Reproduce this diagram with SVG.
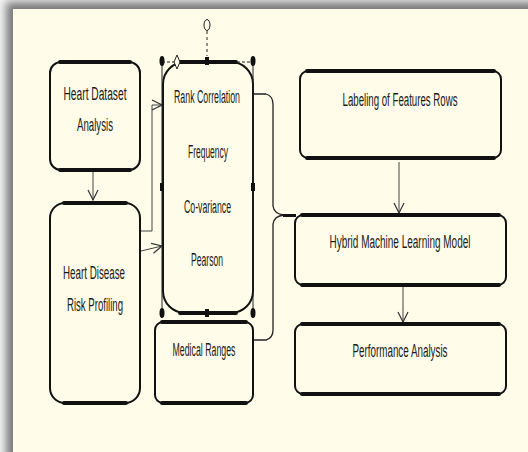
<svg xmlns="http://www.w3.org/2000/svg" width="528" height="452" viewBox="0 0 528 452">
<defs>
<filter id="blur" x="-10%" y="-10%" width="120%" height="120%"><feGaussianBlur stdDeviation="4"/></filter>
<marker id="arr" viewBox="0 0 12 12" refX="11" refY="6" markerWidth="12" markerHeight="12" markerUnits="userSpaceOnUse" orient="auto">
<path d="M1,1 L11,6 L1,11" fill="none" stroke="#333" stroke-width="1.2"/>
</marker>
<style>
.box{fill:none;stroke:#111;stroke-width:2}
.thick{fill:none;stroke:#111;stroke-width:4;stroke-linecap:round}
.t{font-family:"Liberation Sans",Arial,sans-serif;font-size:18px;fill:#1a1a1a;text-anchor:middle}
.con{fill:none;stroke:#222;stroke-width:1.3}
.arrow{fill:none;stroke:#444;stroke-width:1;marker-end:url(#arr)}
</style>
</defs>
<rect x="0" y="0" width="528" height="452" fill="#f4f4f4"/>
<rect x="6" y="2" width="540" height="470" fill="#7a7a7a" filter="url(#blur)"/>
<rect x="13" y="9" width="515" height="443" fill="#fffde9"/>

<g id="connectors">
<path class="arrow" d="M93,172 L93,200"/>
<path class="arrow" d="M140,231 L152,231 L152,105 L162,105"/>
<path class="arrow" d="M141,251 L162,246"/>
<path class="con" d="M253,94 L266,94 Q273,96 273,104 L273,206 Q274,214 284,215"/>
<path class="con" d="M253,340 L266,340 Q273,338 273,330 L273,224 Q274,216 284,215"/>
<path d="M283,215.5 L296,215.5" stroke="#111" stroke-width="3"/>
<path class="arrow" d="M399,162 L399,213"/>
<path class="arrow" d="M403,287 L403,322"/>
</g>

<g id="n1">
<rect class="box" x="50" y="62" width="90" height="108" rx="11"/>
<path class="thick" d="M60,62 L130,62 M60,170 L130,170"/>
<text class="t" x="95" y="100" textLength="63" lengthAdjust="spacingAndGlyphs">Heart Dataset</text>
<text class="t" x="95" y="131" textLength="36" lengthAdjust="spacingAndGlyphs">Analysis</text>
</g>

<g id="n2">
<rect class="box" x="50" y="203" width="90" height="200" rx="15"/>
<path class="thick" d="M64,203 L126,203 M64,403 L126,403"/>
<text class="t" x="94" y="279" textLength="62" lengthAdjust="spacingAndGlyphs">Heart Disease</text>
<text class="t" x="95" y="311" textLength="56" lengthAdjust="spacingAndGlyphs">Risk Profiling</text>
</g>

<g id="n3">
<rect class="box" x="163" y="62" width="90" height="251" rx="22"/>
<path class="thick" d="M180,62 L236,62 M180,313 L236,313"/>
<path d="M162,62 L177,62 M237,62 L253,62" stroke="#222" stroke-width="1" stroke-dasharray="3,2"/>
<path d="M162,62 L162,313 M253,62 L253,313" stroke="#222" stroke-width="1"/>
<path d="M207,31 L207,56" stroke="#222" stroke-width="1" stroke-dasharray="3,3"/>
<ellipse cx="207" cy="25" rx="3" ry="5.5" fill="#fffde9" stroke="#222" stroke-width="1"/>
<path d="M177,55 L180,62 L177,69 L174,62 Z" fill="#fffde9" stroke="#222" stroke-width="1"/>
<ellipse cx="162" cy="61" rx="2.5" ry="5" fill="#111"/>
<ellipse cx="253" cy="61" rx="2.5" ry="5" fill="#111"/>
<ellipse cx="162" cy="313" rx="2.5" ry="5" fill="#111"/>
<ellipse cx="253" cy="313" rx="2.5" ry="5" fill="#111"/>
<rect x="205" y="57" width="4" height="8" fill="#111"/>
<rect x="205" y="309" width="4" height="8" fill="#111"/>
<rect x="160" y="183" width="4" height="8" fill="#111"/>
<rect x="251" y="183" width="4" height="8" fill="#111"/>
<text class="t" x="207" y="103" textLength="66" lengthAdjust="spacingAndGlyphs">Rank Correlation</text>
<text class="t" x="208" y="158" textLength="40" lengthAdjust="spacingAndGlyphs">Frequency</text>
<text class="t" x="207.5" y="213" textLength="47" lengthAdjust="spacingAndGlyphs">Co-variance</text>
<text class="t" x="207" y="266" textLength="32" lengthAdjust="spacingAndGlyphs">Pearson</text>
</g>

<g id="n4">
<rect class="box" x="155" y="322" width="98" height="81" rx="8"/>
<path class="thick" d="M162,322 L246,322 M162,403 L246,403"/>
<text class="t" x="204" y="356" textLength="63" lengthAdjust="spacingAndGlyphs">Medical Ranges</text>
</g>

<g id="n5">
<rect class="box" x="300" y="71" width="201" height="87" rx="8"/>
<path class="thick" d="M307,71 L494,71 M307,158 L494,158"/>
<text class="t" x="400" y="106" textLength="115" lengthAdjust="spacingAndGlyphs">Labeling of Features Rows</text>
</g>

<g id="n6">
<rect class="box" x="295" y="215" width="211" height="70" rx="8"/>
<path class="thick" d="M302,215 L499,215 M302,285 L499,285"/>
<text class="t" x="400" y="248" textLength="141" lengthAdjust="spacingAndGlyphs">Hybrid Machine Learning Model</text>
</g>

<g id="n7">
<rect class="box" x="295" y="324" width="211" height="70" rx="8"/>
<path class="thick" d="M302,324 L499,324 M302,394 L499,394"/>
<text class="t" x="400" y="357" textLength="95" lengthAdjust="spacingAndGlyphs">Performance Analysis</text>
</g>
</svg>
